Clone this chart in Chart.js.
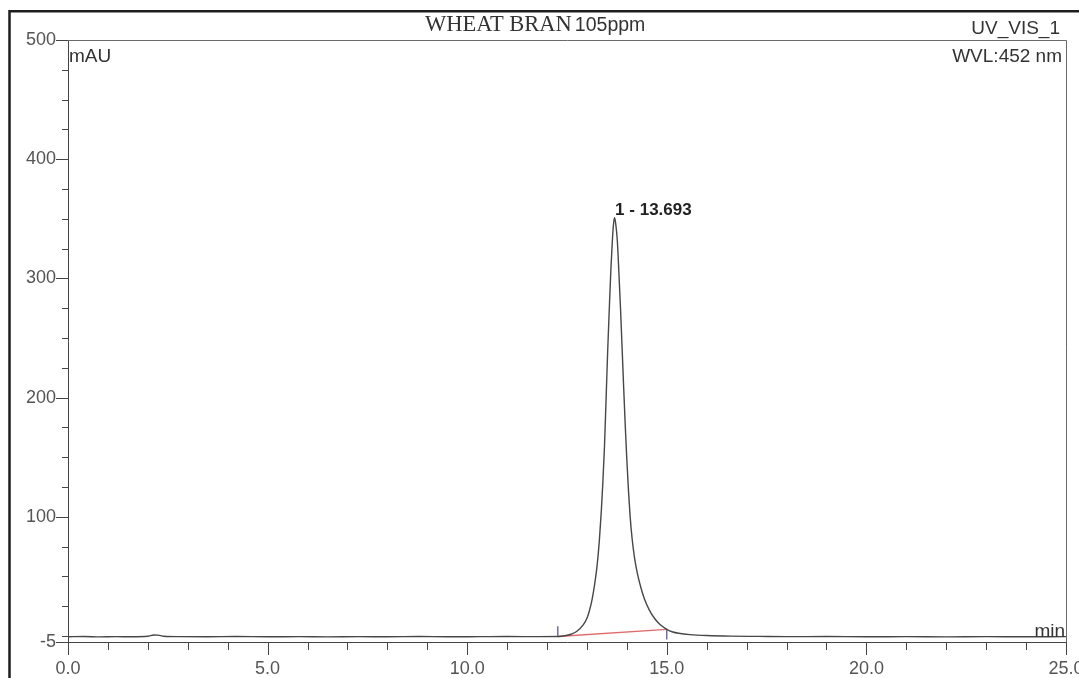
<!DOCTYPE html>
<html>
<head>
<meta charset="utf-8">
<script src="https://cdn.jsdelivr.net/npm/chart.js@4.4.0/dist/chart.umd.min.js"></script>
<style>
  html, body { margin: 0; padding: 0; background: #ffffff; }
  #wrap { width: 1079px; height: 678px; overflow: hidden; }
</style>
</head>
<body>
<div id="wrap"><canvas id="c" width="1079" height="678"></canvas></div>
<script>
// ---- data ----
const retentionTimes = [0, 0.4, 0.8, 1.2, 1.6, 2.0, 2.15, 2.25, 2.4, 2.8, 3.5, 4.2, 5.0, 5.8, 6.5, 7.3, 8.0, 8.8, 9.5, 10.3, 11.0, 11.8, 12.27,
  12.45, 12.6, 12.74, 12.91, 13.00, 13.06, 13.13, 13.20, 13.26, 13.31, 13.36, 13.40, 13.44, 13.48, 13.52, 13.56, 13.60, 13.64, 13.67, 13.693,
  13.72, 13.76, 13.80, 13.84, 13.88, 13.92, 13.96, 14.00, 14.04, 14.08, 14.13, 14.19, 14.26, 14.34, 14.44, 14.56, 14.70, 14.83, 15.0, 15.15, 15.3, 15.58,
  16.0, 16.6, 17.3, 18.0, 19.0, 20.0, 21.0, 22.0, 23.0, 24.0, 25.0];
const absorbance = [-0.6, -0.4, -0.7, -0.5, -0.6, -0.2, 0.9, 0.8, -0.2, -0.5, -0.6, -0.4, -0.6, -0.5, -0.7, -0.5, -0.6, -0.4, -0.6, -0.5, -0.4, -0.5, -0.4,
  0.2, 1.5, 3.8, 9.6, 15, 21, 31, 45, 61, 80, 105, 130, 160, 200, 240, 275, 308, 334, 347, 351,
  346, 332, 305, 275, 242, 208, 176, 147, 122, 101, 82, 66, 53, 42, 31, 22, 14.5, 9.6, 5.6, 3.4, 2.3, 1.2,
  0.4, -0.1, -0.3, -0.5, -0.4, -0.6, -0.5, -0.7, -0.5, -0.6, -0.5];

// integration baseline (peak start / end)
const baselineTimes = [12.27, 15.0];
const baselineValues = [-0.4, 5.6];
// peak delimiter marks
const startMarkTimes = [12.27, 12.27];
const startMarkValues = [-0.6, 8.2];
const endMarkTimes = [15.0, 15.0];
const endMarkValues = [-3.0, 5.6];

// peak label
const peakLabel = "1 - 13.693";
const peakTime = 13.693;
const peakValue = 351;

// tick labels
const xTickLabels = [0, 5, 10, 15, 20, 25];
const yTickLabels = [-5, 100, 200, 300, 400, 500];

const SANS = '"Liberation Sans", Arial, sans-serif';
const SERIF = '"Liberation Serif", "Times New Roman", serif';

const pts = (xs, ys) => xs.map((x, i) => ({ x: x, y: ys[i] }));

const decor = {
  id: 'decor',
  beforeDraw(chart) {
    const ctx = chart.ctx;
    ctx.save();
    ctx.fillStyle = '#ffffff';
    ctx.fillRect(0, 0, chart.width, chart.height);
    // outer frame
    ctx.strokeStyle = '#1e1e1e';
    ctx.lineWidth = 2.5;
    ctx.beginPath();
    ctx.moveTo(9.5, 700);
    ctx.lineTo(9.5, 11.2);
    ctx.lineTo(1100, 11.2);
    ctx.stroke();
    ctx.restore();
  },
  afterDraw(chart) {
    const ctx = chart.ctx;
    const xs = chart.scales.x, ys = chart.scales.y;
    const a = chart.chartArea;
    ctx.save();
    // plot frame top & right
    ctx.strokeStyle = '#6a6a6a';
    ctx.lineWidth = 1;
    ctx.beginPath();
    ctx.moveTo(a.left, Math.round(a.top) + 0.5);
    ctx.lineTo(Math.round(a.right) + 0.5, Math.round(a.top) + 0.5);
    ctx.lineTo(Math.round(a.right) + 0.5, a.bottom + 13);
    ctx.stroke();

    // x ticks
    ctx.strokeStyle = '#444';
    ctx.beginPath();
    for (let t = 0; t <= 25; t += 1) {
      const px = Math.round(xs.getPixelForValue(t)) + 0.5;
      const len = (t % 5 === 0) ? 13 : 8;
      ctx.moveTo(px, a.bottom);
      ctx.lineTo(px, a.bottom + len);
    }
    // y ticks
    for (let v = 0; v < 500; v += 25) {
      if (v % 100 === 0 && v !== 0) continue;
      const py = Math.round(ys.getPixelForValue(v)) + 0.5;
      ctx.moveTo(a.left - 6, py);
      ctx.lineTo(a.left, py);
    }
    yTickLabels.forEach(v => {
      const py = Math.round(ys.getPixelForValue(v)) + 0.5;
      ctx.moveTo(a.left - 12, py);
      ctx.lineTo(a.left, py);
    });
    ctx.stroke();

    // texts
    ctx.fillStyle = '#333';
    ctx.textBaseline = 'alphabetic';
    ctx.textAlign = 'left';
    ctx.font = '22.5px ' + SERIF;
    ctx.fillText('WHEAT BRAN', 425, 31);
    const w = ctx.measureText('WHEAT BRAN').width;
    ctx.font = '19.5px ' + SANS;
    ctx.fillText('105ppm', 425 + w + 3, 31);

    ctx.font = '19px ' + SANS;
    ctx.textAlign = 'right';
    ctx.fillText('UV_VIS_1', 1060, 34);
    ctx.fillText('WVL:452 nm', 1062, 62);
    ctx.fillText('min', 1065, 637);
    ctx.textAlign = 'left';
    ctx.fillText('mAU', 69, 62);

    ctx.font = 'bold 17px ' + SANS;
    ctx.fillStyle = '#222';
    ctx.fillText(peakLabel, xs.getPixelForValue(peakTime) + 0.5, ys.getPixelForValue(peakValue) - 3);
    ctx.restore();
  }
};

new Chart(document.getElementById('c'), {
  type: 'line',
  data: {
    datasets: [
      {
        data: pts(retentionTimes, absorbance),
        borderColor: '#474747',
        borderWidth: 1.4,
        pointRadius: 0,
        cubicInterpolationMode: 'monotone',
        fill: false
      },
      {
        data: pts(baselineTimes, baselineValues),
        borderColor: '#e06a6a',
        borderWidth: 1.3,
        pointRadius: 0,
        fill: false
      },
      {
        data: pts(startMarkTimes, startMarkValues),
        borderColor: '#4b4b94',
        borderWidth: 1.2,
        pointRadius: 0,
        fill: false
      },
      {
        data: pts(endMarkTimes, endMarkValues),
        borderColor: '#4b4b94',
        borderWidth: 1.2,
        pointRadius: 0,
        fill: false
      }
    ]
  },
  options: {
    responsive: false,
    devicePixelRatio: 1,
    animation: false,
    layout: { padding: { top: 40, right: 13, left: 0, bottom: 0 } },
    plugins: { legend: { display: false }, title: { display: false }, tooltip: { enabled: false } },
    scales: {
      x: {
        type: 'linear',
        min: 0,
        max: 25,
        afterBuildTicks: s => { s.ticks = xTickLabels.map(v => ({ value: v })); },
        afterFit: s => { s.height = 36; s.paddingLeft = 0; s.paddingRight = 0; },
        ticks: {
          callback: v => Number(v).toFixed(1),
          font: { family: SANS, size: 18 },
          color: '#555',
          padding: 16,
          maxRotation: 0,
          autoSkip: false
        },
        grid: { display: true, drawOnChartArea: false, drawTicks: false },
        border: { display: true, color: '#444', width: 1 }
      },
      y: {
        type: 'linear',
        min: -5,
        max: 500,
        afterBuildTicks: s => { s.ticks = yTickLabels.map(v => ({ value: v })); },
        afterFit: s => { s.width = 68; s.paddingTop = 0; s.paddingBottom = 0; },
        ticks: {
          callback: v => String(v),
          font: { family: SANS, size: 18 },
          color: '#555',
          padding: 12,
          autoSkip: false
        },
        grid: { display: true, drawOnChartArea: false, drawTicks: false },
        border: { display: true, color: '#444', width: 1 }
      }
    }
  },
  plugins: [decor]
});
</script>
</body>
</html>
